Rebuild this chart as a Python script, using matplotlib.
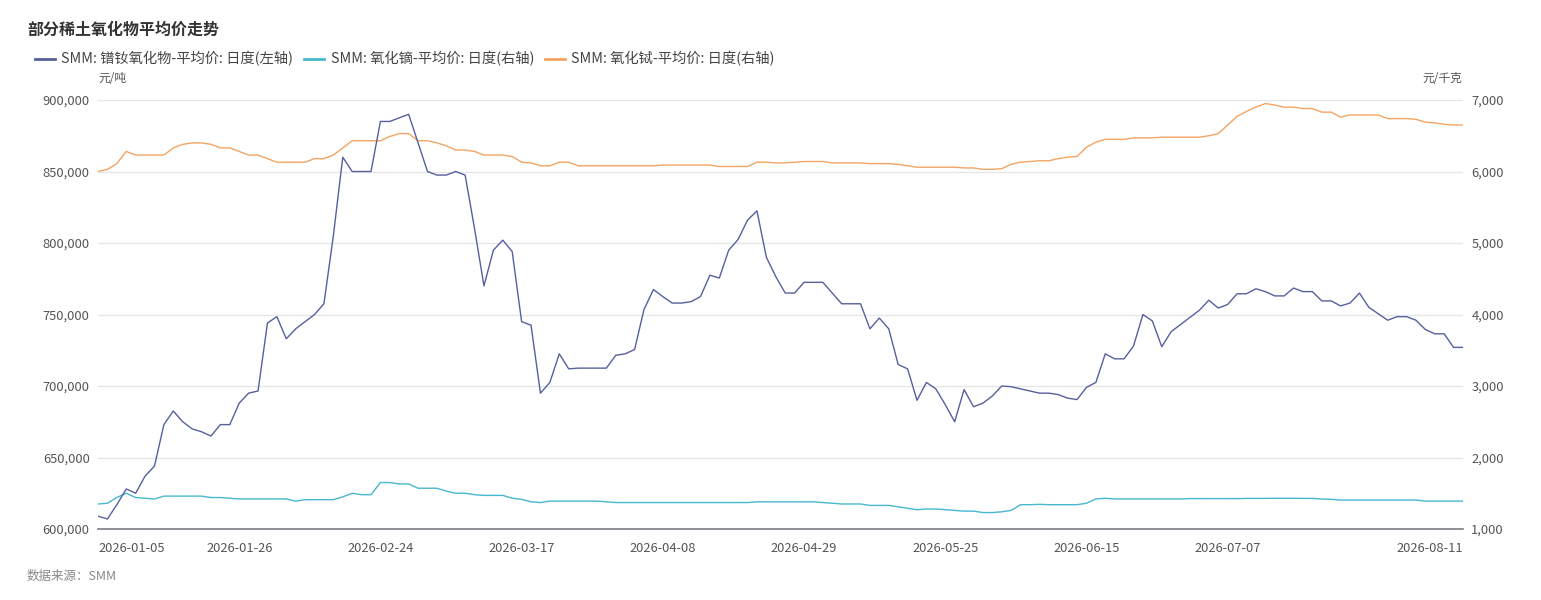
import numpy as np
import pandas as pd
import matplotlib
matplotlib.use("Agg")
import matplotlib.pyplot as plt
from matplotlib.lines import Line2D
from matplotlib.ticker import FuncFormatter

plt.rcParams['font.family'] = ['Noto Sans CJK SC', 'DejaVu Sans']

# trading days (SMM daily quotes), CN holidays skipped
holidays = ['2026-02-16', '2026-02-17', '2026-02-18', '2026-02-19', '2026-02-20',
            '2026-02-23', '2026-04-06', '2026-05-01', '2026-05-04', '2026-05-05',
            '2026-06-19']
dates = pd.bdate_range('2026-01-05', '2026-08-11', freq='C', holidays=holidays)
date_labels = [d.strftime('%Y-%m-%d') for d in dates]

# 镨钕氧化物 (元/吨, left axis)
ndpr = [609000, 607000, 617000, 628000, 625000, 637000, 644000, 673000, 682500, 675000,
        670000, 668000, 665000, 673000, 673000, 688000, 695000, 696500, 744000, 748500,
        733000, 740000, 745000, 750000, 757500, 805000, 860000, 850000, 850000, 850000,
        885000, 885000, 887500, 890000, 870000, 850000, 847500, 847500, 850000, 847500,
        810000, 770000, 795000, 802000, 794000, 745000, 742500, 695000, 702500, 722500,
        712000, 712500, 712500, 712500, 712500, 721500, 722500, 725500, 753500, 767500,
        762500, 758000, 758000, 759000, 762500, 777500, 775500, 795000, 802500, 816000,
        822500, 790000, 776500, 765000, 765000, 772500, 772500, 772500, 765000, 757500,
        757500, 757500, 740000, 747500, 740000, 715000, 712000, 690000, 702500, 698000,
        687000, 675000, 697500, 685500, 688000, 693000, 700000, 699500, 698000, 696500,
        695000, 695000, 694000, 691500, 690500, 699000, 702500, 722500, 719000, 719000,
        728000, 750000, 745500, 727500, 738000, 743000, 748000, 753000, 760000, 754500,
        757000, 764500, 764500, 768000, 766000, 763000, 763000, 768500, 766000, 766000,
        759500, 759500, 756000, 758000, 765000, 755000, 750500, 746000, 748500, 748500,
        746000, 739500, 736500, 736500, 727000, 727000]

# 氧化镝 (元/千克, right axis)
dy = [1350, 1360, 1440, 1500, 1440, 1430, 1420, 1460, 1460, 1460,
      1460, 1460, 1440, 1440, 1430, 1420, 1420, 1420, 1420, 1420,
      1420, 1390, 1410, 1410, 1410, 1410, 1450, 1500, 1480, 1480,
      1650, 1650, 1630, 1630, 1570, 1570, 1570, 1530, 1500, 1500,
      1480, 1470, 1470, 1470, 1430, 1415, 1380, 1370, 1390, 1390,
      1390, 1390, 1390, 1390, 1380, 1370, 1370, 1370, 1370, 1370,
      1370, 1370, 1370, 1370, 1370, 1370, 1370, 1370, 1370, 1370,
      1380, 1380, 1380, 1380, 1380, 1380, 1380, 1370, 1360, 1350,
      1350, 1350, 1330, 1330, 1330, 1310, 1290, 1270, 1280, 1280,
      1270, 1260, 1250, 1250, 1230, 1230, 1240, 1260, 1340, 1340,
      1345, 1340, 1340, 1340, 1340, 1360, 1420, 1430, 1420, 1420,
      1420, 1420, 1420, 1420, 1420, 1420, 1425, 1425, 1425, 1425,
      1425, 1425, 1428, 1428, 1428, 1430, 1430, 1430, 1428, 1428,
      1420, 1415, 1405, 1405, 1405, 1405, 1405, 1405, 1405, 1405,
      1405, 1390, 1390, 1390, 1390, 1390]

# 氧化铽 (元/千克, right axis)
tb = [6000, 6030, 6110, 6280, 6230, 6230, 6230, 6230, 6330, 6380,
      6400, 6400, 6380, 6330, 6330, 6280, 6230, 6230, 6180, 6130,
      6130, 6130, 6130, 6180, 6180, 6230, 6330, 6430, 6430, 6430,
      6430, 6490, 6530, 6530, 6430, 6430, 6400, 6360, 6300, 6300,
      6280, 6230, 6230, 6230, 6210, 6130, 6120, 6080, 6080, 6130,
      6130, 6080, 6080, 6080, 6080, 6080, 6080, 6080, 6080, 6080,
      6090, 6090, 6090, 6090, 6090, 6090, 6070, 6070, 6070, 6070,
      6130, 6130, 6120, 6120, 6130, 6140, 6140, 6140, 6120, 6120,
      6120, 6120, 6110, 6110, 6110, 6100, 6080, 6060, 6060, 6060,
      6060, 6060, 6050, 6050, 6030, 6030, 6040, 6100, 6130, 6140,
      6150, 6150, 6180, 6200, 6210, 6340, 6410, 6450, 6450, 6450,
      6470, 6470, 6470, 6480, 6480, 6480, 6480, 6480, 6500, 6530,
      6650, 6770, 6840, 6900, 6950, 6930, 6900, 6900, 6880, 6880,
      6830, 6830, 6760, 6790, 6790, 6790, 6790, 6740, 6740, 6740,
      6730, 6690, 6680, 6660, 6650, 6650]

series_names = ['SMM: 镨钕氧化物-平均价: 日度(左轴)',
                'SMM: 氧化镝-平均价: 日度(右轴)',
                'SMM: 氧化铽-平均价: 日度(右轴)']
colors = ['#56609e', '#47b8cf', '#f4a462']

W, H = 1541, 600
fig = plt.figure(figsize=(W / 100, H / 100), dpi=100)
ax = fig.add_axes([98 / W, 1 - 529 / H, (1463 - 98) / W, (529 - 100) / H])
ax2 = ax.twinx()

x = np.arange(len(ndpr))
ax.plot(x, ndpr, color=colors[0], lw=1.0, zorder=3)
ax2.plot(x, dy, color=colors[1], lw=1.0)
ax2.plot(x, tb, color=colors[2], lw=1.0)

ax.set_xlim(0, len(ndpr) - 1)
ax.set_ylim(600000, 900000)
ax2.set_ylim(1000, 7000)
ax.set_yticks(np.arange(600000, 900001, 50000))
ax2.set_yticks(np.arange(1000, 7001, 1000))
fmt = FuncFormatter(lambda v, p: f'{int(v):,}')
ax.yaxis.set_major_formatter(fmt)
ax2.yaxis.set_major_formatter(fmt)

ax.set_zorder(ax2.get_zorder() + 1)
ax.patch.set_visible(False)
ax2.grid(axis='y', color='#e6e6e6', lw=1.0)
ax2.set_axisbelow(True)

tick_idx = [i for i in range(0, len(ndpr), 15) if i <= 120] + [len(ndpr) - 1]
ax.set_xticks(tick_idx)
ax.set_xticklabels([date_labels[i] for i in tick_idx])
labels = ax.get_xticklabels()
labels[0].set_ha('left')
labels[-1].set_ha('right')

for a in (ax, ax2):
    for s in ('top', 'left', 'right'):
        a.spines[s].set_visible(False)
    a.spines['bottom'].set_color('#7a7d86')
    a.spines['bottom'].set_linewidth(1.2)
    a.tick_params(length=0, labelsize=9.3, labelcolor='#555555')
ax2.spines['bottom'].set_visible(False)
ax.tick_params(axis='x', pad=9)
ax.tick_params(axis='y', pad=6)
ax2.tick_params(axis='y', pad=6)

fig.text(27 / W, 1 - 30 / H, '部分稀土氧化物平均价走势', fontsize=11.5,
         fontweight='bold', color='#333333', va='center')

handles = [Line2D([], [], color=c, lw=2) for c in colors]
fig.legend(handles, series_names, loc='center left',
           bbox_to_anchor=(22 / W, 1 - 59 / H), ncol=3, frameon=False,
           fontsize=10.3, handlelength=1.4, handletextpad=0.45,
           columnspacing=0.75, labelcolor='#444444')

fig.text(98 / W, 1 - 79 / H, '元/吨', fontsize=8.5, color='#555555', va='center')
fig.text(1462 / W, 1 - 79 / H, '元/千克', fontsize=8.5, color='#555555',
         va='center', ha='right')
fig.text(27 / W, 1 - 576 / H, '数据来源：SMM', fontsize=9, color='#888888',
         va='center', style='italic')

fig.savefig('out.png', dpi=100)
